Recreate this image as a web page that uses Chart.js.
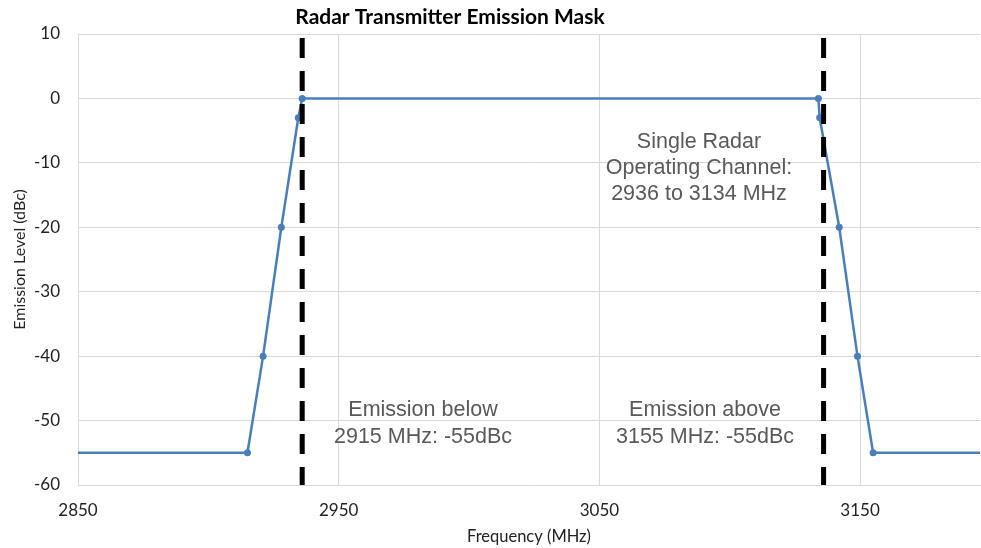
<!DOCTYPE html>
<html>
<head>
<meta charset="utf-8">
<script src="https://cdn.jsdelivr.net/npm/chart.js@4"></script>
<style>
html,body{margin:0;padding:0;background:#fff;overflow:hidden;}
#wrap{width:981px;height:548px;position:relative;}
</style>
</head>
<body>
<div id="wrap"><canvas id="c" width="981" height="548"></canvas></div>
<script>
// ---- data ----
const frequencies = [2850, 2915, 2921, 2928, 2934.5, 2936, 3134, 3134.5, 3142, 3149, 3155, 3200];
const levels      = [-55,  -55,  -40,  -20,  -3,     0,    0,    -3,     -20,  -40,  -55,  -55];
const channelEdges = [2936, 3136];
const xTickValues = [2850, 2950, 3050, 3150];
const yTickValues = [10, 0, -10, -20, -30, -40, -50, -60];
const titleText = "Radar Transmitter Emission Mask";
const xTitle = "Frequency (MHz)";
const yTitle = "Emission Level (dBc)";
const noteChannel = ["Single Radar", "Operating Channel:", "2936 to 3134 MHz"];
const noteBelow = ["Emission below", "2915 MHz: -55dBc"];
const noteAbove = ["Emission above", "3155 MHz: -55dBc"];

// ---- build ----
const maskData = frequencies.map((f, i) => ({x: f, y: levels[i]}));
const edgeSets = channelEdges.map(f => ({
  data: [{x: f, y: 10}, {x: f, y: -60}],
  borderColor: '#000',
  borderWidth: 5,
  borderDash: [20, 13],
  borderDashOffset: 29,
  pointRadius: 0,
  fill: false,
  order: 0
}));

const textPlugin = {
  id: 'texts',
  afterDraw(chart) {
    const ctx = chart.ctx;
    ctx.save();
    ctx.textAlign = 'center';
    ctx.textBaseline = 'middle';
    ctx.fillStyle = '#000';
    ctx.font = 'bold 21px Lato';
    ctx.fillText(titleText, 450, 17);
    ctx.fillStyle = '#595959';
    ctx.font = '21.5px "Liberation Sans"';
    const blocks = [
      {lines: noteChannel, x: 699, y: 142, lh: 26},
      {lines: noteBelow, x: 423, y: 410, lh: 27},
      {lines: noteAbove, x: 705, y: 410, lh: 27}
    ];
    blocks.forEach(b => b.lines.forEach((t, i) => ctx.fillText(t, b.x, b.y + i * b.lh)));
    ctx.restore();
  }
};

new Chart(document.getElementById('c'), {
  type: 'line',
  data: {
    datasets: [{
      data: maskData,
      borderColor: '#4a7ebb',
      backgroundColor: '#4a7ebb',
      borderWidth: 2.5,
      pointRadius: ctx => (ctx.raw && (ctx.raw.x === frequencies[0] || ctx.raw.x === frequencies[frequencies.length - 1])) ? 0 : 3.5,
      pointBorderWidth: 0,
      fill: false,
      tension: 0,
      order: 1
    }, ...edgeSets]
  },
  options: {
    responsive: false,
    animation: false,
    layout: {padding: {top: 34, right: 1, left: 0, bottom: 0}},
    plugins: {legend: {display: false}, tooltip: {enabled: false}, title: {display: false}},
    scales: {
      x: {
        type: 'linear',
        min: 2850,
        max: 3196,
        afterBuildTicks: s => { s.ticks = xTickValues.map(v => ({value: v})); },
        afterFit: s => { s.height = 63; },
        grid: {color: '#d9d9d9', lineWidth: 1, drawTicks: false},
        border: {color: '#d9d9d9', width: 1},
        ticks: {font: {family: 'Lato', size: 17}, color: '#222', padding: 15, maxRotation: 0, autoSkip: false, callback: v => String(v)},
        title: {display: true, text: xTitle, font: {family: 'Lato', size: 16.5}, color: '#222', padding: {top: 0, bottom: 1}}
      },
      y: {
        type: 'linear',
        min: -60,
        max: 10,
        afterBuildTicks: s => { s.ticks = yTickValues.map(v => ({value: v})); },
        afterFit: s => { s.width = 78; },
        grid: {color: '#d9d9d9', lineWidth: 1, drawTicks: false},
        border: {color: '#d9d9d9', width: 1},
        ticks: {font: {family: 'Lato', size: 17}, color: '#222', padding: 18, callback: v => String(v)},
        title: {display: true, text: yTitle, font: {family: 'Lato', size: 16}, color: '#222', padding: {top: 10, bottom: 0}}
      }
    }
  },
  plugins: [textPlugin]
});
</script>
</body>
</html>
